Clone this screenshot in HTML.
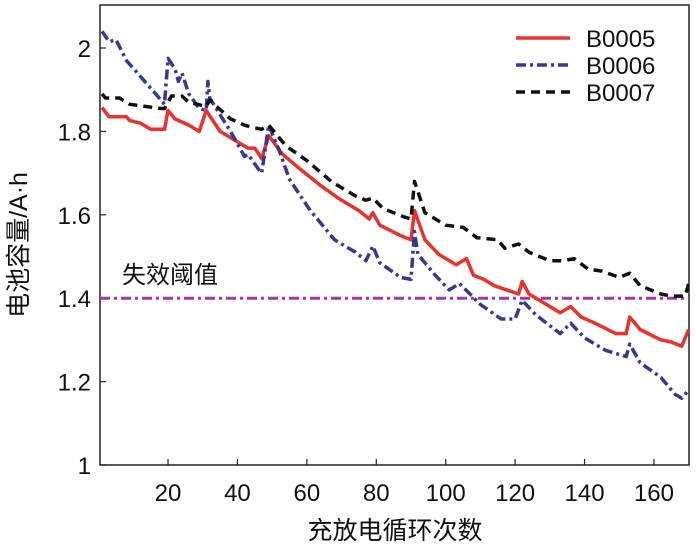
<!DOCTYPE html>
<html><head><meta charset="utf-8"><style>
body{margin:0;background:#fff;}
svg{display:block;font-family:"Liberation Sans","Noto Sans CJK SC",sans-serif;}
</style></head><body>
<svg id="c" width="696" height="553"></svg>
<script>
const xTicks=[20,40,60,80,100,120,140,160];
const yTicks=[1,1.2,1.4,1.6,1.8,2];
const threshold=1.4;
const seriesNames=["B0005","B0006","B0007"];
const b5x=[1,3,8,9,12,15,19,20,22,26,29,31,35,41,43,45,47,49,53,58,64,69,75,78,79,81,87,90,91,94,98,103,106,108,111,114,121,122,124,133,136,139,143,149,152,153,156,162,165,168,170];
const b5y=[1.857,1.835,1.835,1.826,1.82,1.805,1.805,1.85,1.83,1.815,1.80,1.85,1.80,1.77,1.76,1.76,1.735,1.79,1.745,1.71,1.67,1.64,1.61,1.59,1.605,1.575,1.55,1.54,1.61,1.54,1.505,1.48,1.495,1.455,1.445,1.43,1.41,1.44,1.41,1.365,1.38,1.355,1.34,1.315,1.315,1.355,1.325,1.30,1.295,1.285,1.325];
const b6x=[1,3,5,8,18,19,20,22,23,24,26,29,31,31.5,32,38,42,43,46,47,49,52,55,61,68,74,77,79,81,87,90,91,92,97,101,104,107,110,116,120,122,126,133,136,140,146,152,153,156,162,166,168,170];
const b6y=[2.04,2.015,2.02,1.97,1.875,1.865,1.975,1.95,1.92,1.94,1.89,1.855,1.85,1.92,1.88,1.80,1.74,1.745,1.71,1.70,1.815,1.755,1.685,1.61,1.54,1.51,1.49,1.525,1.485,1.45,1.445,1.56,1.505,1.455,1.42,1.435,1.41,1.385,1.35,1.35,1.395,1.36,1.315,1.34,1.305,1.275,1.26,1.29,1.245,1.21,1.17,1.16,1.18];
const b7x=[1,2,6,9,18,19,21,24,26,31,32,38,42,44,47,49,54,60,67,74,77,79,82,88,90,91,94,100,105,109,115,117,121,124,130,134,137,141,145,150,153,156,162,165,169,170];
const b7y=[1.89,1.88,1.88,1.865,1.855,1.855,1.885,1.885,1.87,1.86,1.875,1.83,1.815,1.81,1.805,1.815,1.765,1.73,1.68,1.645,1.635,1.64,1.615,1.595,1.59,1.68,1.605,1.575,1.57,1.545,1.54,1.52,1.53,1.51,1.49,1.49,1.495,1.47,1.465,1.45,1.46,1.43,1.41,1.405,1.405,1.435];

const NS="http://www.w3.org/2000/svg";
const svg=document.getElementById('c');
const L=100,R=689,T=5,B=465;
function sx(v){return 98.6+3.471*v;}
function sy(v){return 465-(v-1)*417;}
function mk(tag,attrs,parent){const e=document.createElementNS(NS,tag);for(const k in attrs)e.setAttribute(k,attrs[k]);(parent||svg).appendChild(e);return e;}

const defs=mk('clipPath',{id:'clip'});mk('rect',{x:L,y:T,width:R-L,height:B-T},defs);

const frame=mk('rect',{x:L,y:T,width:R-L,height:B-T,fill:'none',stroke:'#222','stroke-width':1.5});



xTicks.forEach(t=>{
  const x=sx(t);
  const tk=mk('line',{x1:x,x2:x,y1:B,y2:B-6,stroke:'#222','stroke-width':1.2});
  
  
  const lb=mk('text',{x:x,y:B+36,'text-anchor':'middle','font-size':24,fill:'#111'});
  lb.textContent=t;
  
  
});
yTicks.forEach(t=>{
  const y=sy(t);
  const tk=mk('line',{x1:L,x2:L+6,y1:y,y2:y,stroke:'#222','stroke-width':1.2});
  
  
  const lb=mk('text',{x:L-9,y:y+9,'text-anchor':'end','font-size':24,fill:'#111'});
  lb.textContent=String(t);
  
  
});

const th=mk('line',{x1:L,x2:R,y1:sy(threshold),y2:sy(threshold),stroke:'#a03aa0','stroke-width':3,'stroke-dasharray':'10 4 3 4'});


const tt=mk('text',{x:122,y:sy(threshold)-15,'font-size':24,fill:'#111'});
tt.textContent='失效阈值';



const styles=[{c:'#e8322e',d:''},{c:'#38388f',d:'10 4 3 4'},{c:'#111',d:'9 6'}];
const data=[[b5x,b5y],[b6x,b6y],[b7x,b7y]];
data.forEach((s,i)=>{
  const pts=s[0].map((x,j)=>sx(x).toFixed(1)+','+sy(s[1][j]).toFixed(1)).join(' ');
  const pl=mk('polyline',{points:pts,fill:'none',stroke:styles[i].c,'stroke-width':3.5,'stroke-dasharray':styles[i].d,'clip-path':'url(#clip)','stroke-linejoin':'round'});
  
  
  const ly=38+i*27;
  const ll=mk('line',{x1:516,x2:570,y1:ly,y2:ly,stroke:styles[i].c,'stroke-width':3.5,'stroke-dasharray':styles[i].d});
  
  
  const lt=mk('text',{x:586,y:ly+9,'font-size':24,fill:'#111'});
  lt.textContent=seriesNames[i];
  
  
});

const xt=mk('text',{x:395,y:539,'text-anchor':'middle','font-size':25,fill:'#111'});
xt.textContent='充放电循环次数';


const yt=mk('text',{x:0,y:0,'text-anchor':'middle','font-size':25,fill:'#111',transform:'translate(27,245) rotate(-90)'});
yt.textContent='电池容量/A·h';


</script>
</body></html>
